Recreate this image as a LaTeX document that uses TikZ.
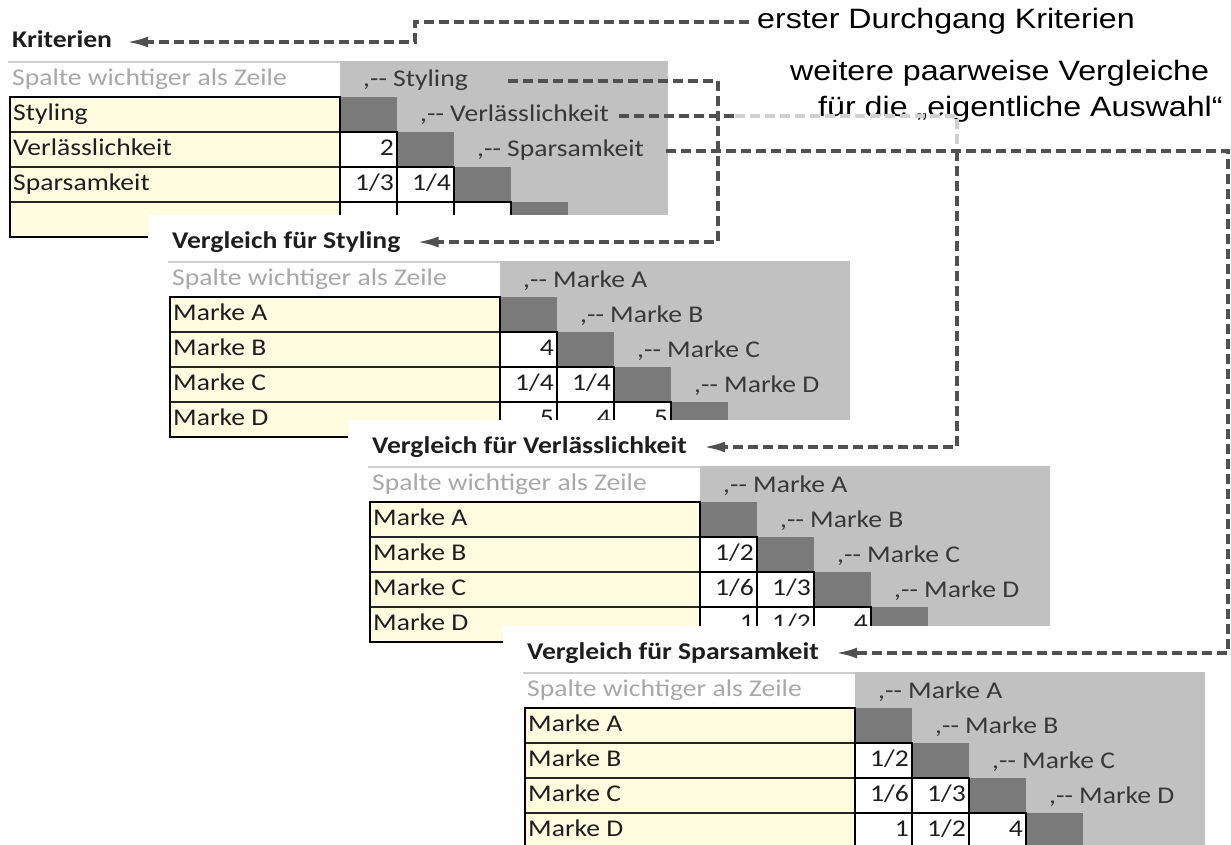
\documentclass[tikz,border=0pt]{standalone}
\usepackage{fontspec}
\setmainfont{Carlito}[FakeStretch=1.15]
\newfontfamily\notizfont{Liberation Sans}[FakeStretch=1.15]
\usepackage{tikz}
\usetikzlibrary{arrows.meta}

\definecolor{boxgrau}{HTML}{C1C1C1}
\definecolor{diaggrau}{HTML}{7A7A7A}
\definecolor{zellgelb}{HTML}{FFFCDF}
\definecolor{hinweisgrau}{HTML}{A8A8A8}
\definecolor{spaltengrau}{HTML}{383838}
\definecolor{schriftdunkel}{HTML}{1E1E1E}
\definecolor{strichgrau}{HTML}{505050}
\definecolor{strichhell}{HTML}{D0D0D0}
\definecolor{liniegrau}{HTML}{CFCFCF}

\newcommand{\blatt}[6]{%
  \begin{scope}[shift={#1}]
    \draw[liniegrau,line width=1.5pt] (-2,-35) -- (330,-35);
    \fill[boxgrau] (330,-36) rectangle (#2,160);
    \fill[zellgelb] (0,0) rectangle (330,140);
    \foreach \i in {1,...,4}
      \fill[diaggrau] ({273+57*\i},{35*\i-35}) rectangle +(57,35);
    \foreach \c/\r in {1/2,1/3,2/3,1/4,2/4,3/4}
      \fill[white] ({273+57*\c},{35*\r-35}) rectangle +(57,35);
    \foreach \c/\r in {1/2,1/3,2/3,1/4,2/4,3/4}
      \draw[line width=1.4pt] ({273+57*\c},{35*\r-35}) rectangle +(57,35);
    \foreach \r in {1,2,3}
      \draw[line width=1.7pt,black!85] (0,{35*\r}) -- (330,{35*\r});
    \draw[line width=2.5pt] (0,0) rectangle (330,140);
    \node[titel] (#3titel) at (2,-55) {#4};
    \node[hinweis] (#3kopf) at (2,-17.5) {Spalte wichtiger als Zeile};
    \foreach \name [count=\i] in {#5} {
      \node[zeile] (#3z\i) at (3,{35*\i-17.5}) {\name};
      \node[spalte] (#3k\i) at ({296+57*\i},{35*\i-51}) {,-{}- \name};
    }
    \foreach \c/\r/\v in {#6}
      \node[wert] (#3w\c\r) at ({327+57*\c},{35*\r-17.5}) {\v};
  \end{scope}}

\begin{document}
\begin{tikzpicture}[x=1pt,y=-1pt]
  \tikzstyle{txt}=[inner sep=0pt,text height=17pt,text depth=5pt,font=\fontsize{24}{28}\selectfont]
  \tikzstyle{titel}=[txt,anchor=west,font=\fontsize{24}{28}\selectfont\bfseries,text=schriftdunkel]
  \tikzstyle{hinweis}=[txt,anchor=west,text=hinweisgrau]
  \tikzstyle{zeile}=[txt,anchor=west,text=schriftdunkel]
  \tikzstyle{spalte}=[txt,anchor=west,text=spaltengrau]
  \tikzstyle{wert}=[txt,anchor=east,text=schriftdunkel]
  \tikzstyle{notiz}=[anchor=west,inner sep=0pt,text height=20pt,text depth=6pt,font=\notizfont\fontsize{28}{32}\selectfont]
  \tikzstyle{verweis}=[strichgrau,line width=3.5pt,dash pattern=on 10pt off 5pt]
  \tikzstyle{pfeil}=[verweis,-{Latex[length=22pt,width=11pt]}]

  \useasboundingbox (0,0) rectangle (1231,845);
  \clip (0,0) rectangle (1231,845);
  \fill[white] (0,0) rectangle (1231,845);

  \blatt{(10,97)}{658}{t1}{Kriterien}{Styling,Verlässlichkeit,Sparsamkeit}{1/2/2,1/3/{1/3},2/3/{1/4}}
  \fill[white] (148,215) rectangle (890,497);
  \blatt{(170,297)}{680}{t2}{Vergleich für Styling}{Marke A,Marke B,Marke C,Marke D}{1/2/4,1/3/{1/4},2/3/{1/4},1/4/5,2/4/4,3/4/5}
  \fill[white] (348,420) rectangle (1090,702);
  \blatt{(370,502)}{680}{t3}{Vergleich für Verlässlichkeit}{Marke A,Marke B,Marke C,Marke D}{1/2/{1/2},1/3/{1/6},2/3/{1/3},1/4/1,2/4/{1/2},3/4/4}
  \fill[white] (503,626) rectangle (1240,860);
  \blatt{(525,708)}{680}{t4}{Vergleich für Sparsamkeit}{Marke A,Marke B,Marke C,Marke D}{1/2/{1/2},1/3/{1/6},2/3/{1/3},1/4/1,2/4/{1/2},3/4/4}

  \node[notiz] (erster) at (757,22) {erster Durchgang Kriterien};
  \node[notiz] (weitere1) at (790,74) {weitere paarweise Vergleiche};
  \node[notiz] (weitere2) at (818,110) {für die „eigentliche Auswahl“};

  \coordinate (xa) at (415,0);
  \coordinate (xb) at (718,0);
  \coordinate (xc) at (735,0);
  \coordinate (xd) at (957,0);
  \coordinate (xe) at (1228,0);

  \draw[pfeil] ([xshift=-8pt]erster.west) -| (t1titel -| xa) -- ([xshift=14pt]t1titel.east);
  \draw[pfeil] ([xshift=40pt]t1k1.east) -| (t2titel -| xb) -- ([xshift=16pt]t2titel.east);
  \draw[verweis] ([xshift=10pt]t1k2.east) -- (t1k2 -| xc);
  \draw[verweis,strichhell] (t1k2 -| xc) -| (t1k3 -| xd);
  \draw[pfeil] (t1k3 -| xd) |- ([xshift=16pt]t3titel.east);
  \draw[pfeil] ([xshift=22pt]t1k3.east) -| (t4titel -| xe) -- ([xshift=16pt]t4titel.east);
\end{tikzpicture}
\end{document}
